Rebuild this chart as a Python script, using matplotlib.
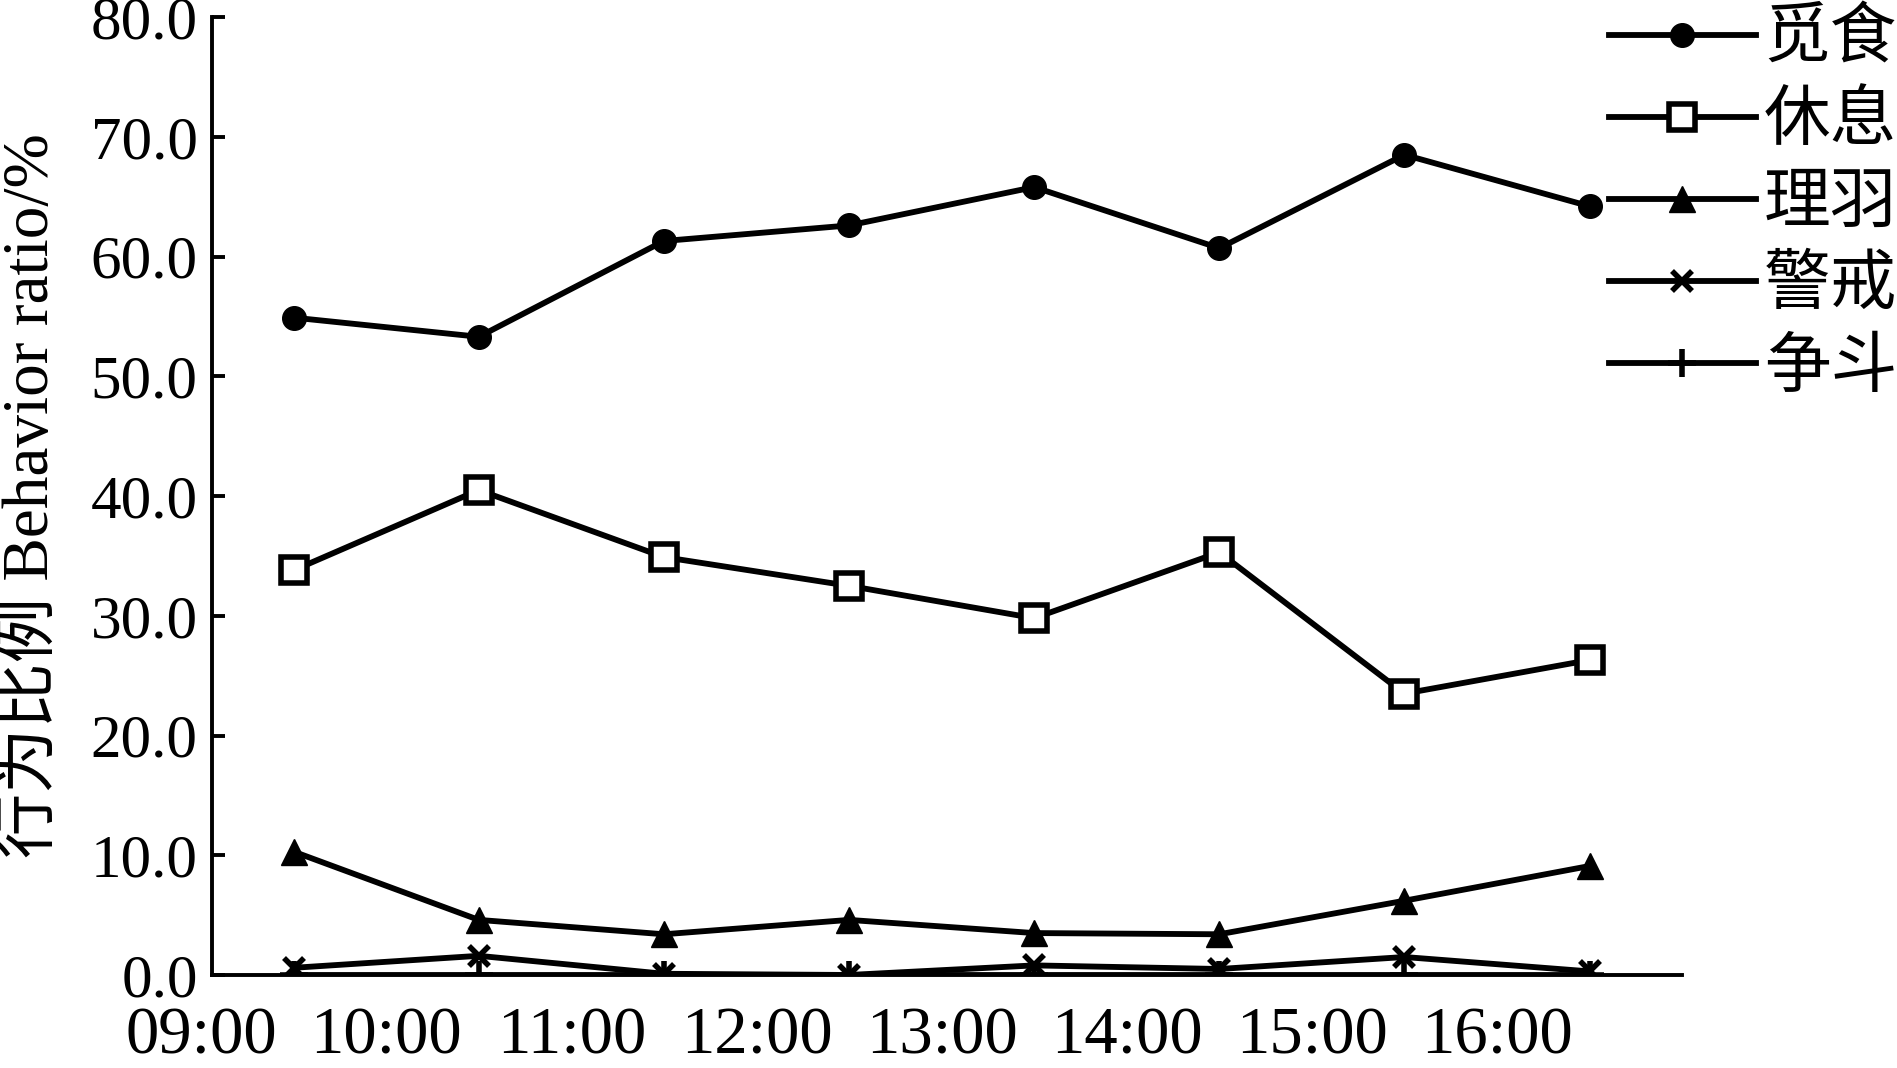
import numpy as np
import matplotlib.pyplot as plt

# time slots (labels sit at the start of each hour interval)
hours = ['09:00', '10:00', '11:00', '12:00', '13:00', '14:00', '15:00', '16:00']

# behaviour ratios (%)
forage = [54.9, 53.3, 61.3, 62.6, 65.8, 60.7, 68.5, 64.2]
rest = [33.8, 40.5, 34.9, 32.5, 29.8, 35.3, 23.5, 26.3]
preen = [10.3, 4.6, 3.4, 4.6, 3.5, 3.4, 6.2, 9.1]
alert = [0.6, 1.6, 0.1, 0.0, 0.8, 0.5, 1.5, 0.3]
fight = [0.0, 0.0, 0.0, 0.0, 0.0, 0.0, 0.0, 0.0]

names = ['觅食', '休息', '理羽', '警戒', '争斗']

serif = ['Liberation Serif', 'Noto Sans CJK SC']
cjk = ['Noto Sans CJK SC', 'Liberation Serif']

fig = plt.figure(figsize=(18.97, 10.68), dpi=100)
ax = fig.add_axes([0.106, 0.0871, 0.7807, 0.8969])

x = np.arange(len(hours))
lw = 4.2
ax.plot(x, forage, color='black', lw=lw, marker='o', ms=17, label=names[0])
ax.plot(x, rest, color='black', lw=lw, marker='s', ms=19, mfc='white', mew=4, label=names[1])
ax.plot(x, preen, color='black', lw=lw, marker='^', ms=19, label=names[2])
ax.plot(x, alert, color='black', lw=lw, marker='x', ms=15, mew=4, label=names[3])
ax.plot(x, fight, color='black', lw=lw, marker='+', ms=20, mew=4, label=names[4])

ax.set_ylim(0, 80)
ax.set_xlim(-0.5, 7.5)
ax.spines['left'].set_position(('data', -0.443))
ax.spines['bottom'].set_bounds(-0.443, 7.5)
ax.spines['top'].set_visible(False)
ax.spines['right'].set_visible(False)
for s in ('left', 'bottom'):
    ax.spines[s].set_linewidth(2.8)

ax.set_yticks(np.arange(0, 81, 10))
ax.set_yticklabels(['%.1f' % v for v in np.arange(0, 81, 10)], family=serif, fontsize=44)
ax.tick_params(axis='y', direction='in', length=9, width=2.8, pad=10)

ax.set_xticks(x - 0.5)
ax.set_xticklabels(hours, family=serif, fontsize=48)
ax.tick_params(axis='x', length=0, pad=23)

ax.set_ylabel('行为比例 Behavior ratio/%', family=serif, fontsize=47)
ax.yaxis.set_label_coords(-0.094, 0.5)

leg = fig.legend(loc='upper right', bbox_to_anchor=(1.0, 0.995), frameon=False,
                 prop={'family': cjk, 'size': 48}, handlelength=2.2,
                 handletextpad=0.12, labelspacing=0.22, borderpad=0.0,
                 borderaxespad=0.0)

fig.savefig('out.png', dpi=100)
